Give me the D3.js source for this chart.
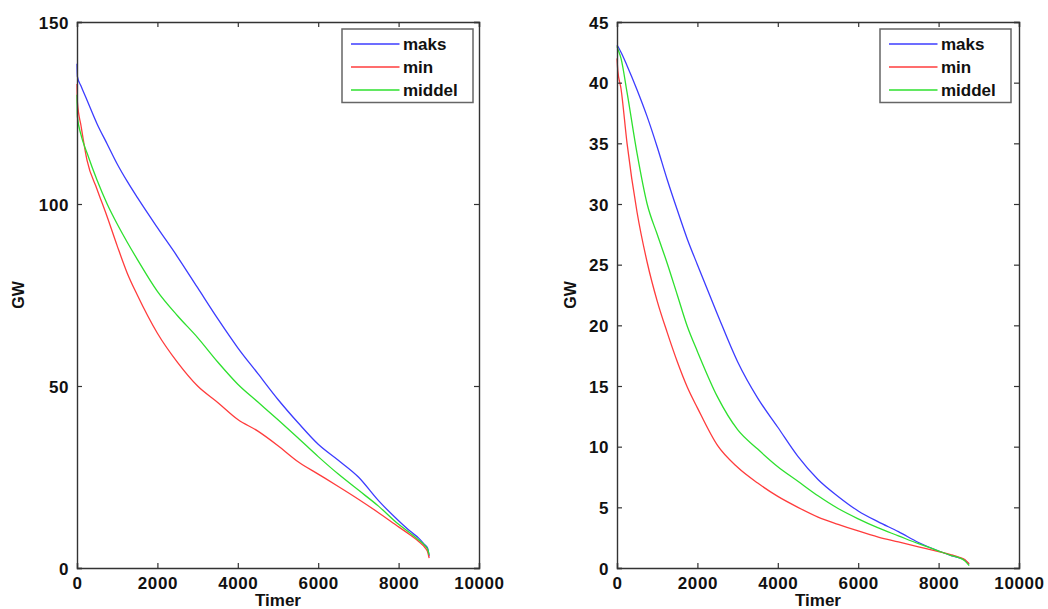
<!DOCTYPE html>
<html>
<head>
<meta charset="utf-8">
<script src="https://cdn.jsdelivr.net/npm/d3@7"></script>
<style>
  body { margin: 0; background: #fff; }
  text { font-family: "Liberation Sans", Arial, sans-serif; font-weight: bold; }
</style>
</head>
<body>
<div id="chart"></div>
<script>
// varighetskurver, hours sorted by load
const seriesNames = ["maks", "min", "middel"];
const seriesColors = ["#3c3cff", "#ff3c3c", "#2ee02e"];

const xTicks = [0, 2000, 4000, 6000, 8000, 10000];
const yTicksLeft = [0, 50, 100, 150];
const yTicksRight = [0, 5, 10, 15, 20, 25, 30, 35, 40, 45];

const hoursLeft = [0, 10, 100, 250, 500, 750, 1000, 1250, 1500, 2000, 2500, 3000, 3500, 4000, 4500, 5000, 5500, 6000, 6500, 7000, 7500, 8000, 8300, 8500, 8650, 8720, 8760];
const maksLeft = [138.5, 135, 132.4, 128.5, 122, 116.5, 111, 106.2, 101.8, 93.5, 85.5, 77, 68.5, 60.5, 53.4, 46.3, 39.9, 34, 29.6, 25, 18.5, 13, 10, 8.2, 6.4, 5.5, 3.2];
const minLeft = [133, 128, 121.5, 112, 104, 96.5, 88.5, 81, 75, 64.5, 56.5, 50, 45.5, 40.8, 37.6, 33.6, 29.2, 25.8, 22.4, 18.9, 15.2, 11.3, 9.0, 7.3, 5.7, 4.5, 2.7];
const middelLeft = [130, 124, 119, 114, 106.5, 100, 94.5, 89.5, 84.8, 76, 69.3, 63.3, 56.6, 50.5, 45.6, 40.7, 35.7, 30.6, 25.8, 21.4, 17, 12, 9.5, 7.7, 6.2, 5.2, 3.6];

const hoursRight = [0, 20, 100, 250, 500, 750, 1000, 1250, 1500, 1750, 2000, 2500, 3000, 3500, 4000, 4500, 5000, 5500, 6000, 6500, 7000, 7500, 8000, 8300, 8500, 8650, 8760];
const maksRight = [43.1, 43, 42.5, 41.4, 39.4, 37.2, 34.7, 32, 29.5, 27.1, 25, 20.9, 17, 14, 11.6, 9.2, 7.3, 5.9, 4.7, 3.8, 3.0, 2.1, 1.4, 1.05, 0.85, 0.65, 0.3];
const minRight = [42, 41, 39.5, 35, 29.3, 25.2, 22, 19.4, 17, 14.9, 13.2, 10.1, 8.3, 7, 5.9, 5, 4.2, 3.6, 3.05, 2.55, 2.15, 1.75, 1.35, 1.1, 0.9, 0.7, 0.35];
const middelRight = [43, 42.8, 42, 39.2, 34.15, 30, 27.5, 25.1, 22.5, 19.9, 17.85, 14.1, 11.4, 9.8, 8.35, 7.15, 5.95, 4.9, 4.05, 3.3, 2.65, 2, 1.4, 1.05, 0.85, 0.6, 0.2];

const width = 1048, height = 609;

const svg = d3.select("#chart").append("svg")
    .attr("width", width)
    .attr("height", height);

function drawPanel(left, right, yMax, yTicks, hours, series, ylabelX, legendX) {
    const top = 22, bottom = 568;
    const x = d3.scaleLinear().domain([0, 10000]).range([left, right]);
    const y = d3.scaleLinear().domain([0, yMax]).range([bottom, top]);

    const g = svg.append("g");

    // curves
    const line = d3.line()
        .x((d, i) => x(hours[i]))
        .y(d => y(d))
        .curve(d3.curveMonotoneX);
    series.forEach((s, k) => {
        g.append("path")
            .datum(s)
            .attr("d", line)
            .attr("fill", "none")
            .attr("stroke", seriesColors[k])
            .attr("stroke-width", 1.3);
    });

    // axes, matlab style: ticks inside on all sides
    const axB = g.append("g").attr("transform", `translate(0,${bottom})`)
        .call(d3.axisBottom(x).tickValues(xTicks).tickSize(-5).tickPadding(9).tickFormat(d3.format("d")));
    const axT = g.append("g").attr("transform", `translate(0,${top})`)
        .call(d3.axisTop(x).tickValues(xTicks).tickSize(-5).tickFormat(""));
    const axL = g.append("g").attr("transform", `translate(${left},0)`)
        .call(d3.axisLeft(y).tickValues(yTicks).tickSize(-5).tickPadding(8));
    const axR = g.append("g").attr("transform", `translate(${right},0)`)
        .call(d3.axisRight(y).tickValues(yTicks).tickSize(-5).tickFormat(""));

    [axB, axT, axL, axR].forEach(a => {
        a.select(".domain").attr("stroke", "#333").attr("stroke-width", 1.4);
        a.selectAll(".tick line").attr("stroke", "#333").attr("stroke-width", 1.2);
        a.selectAll(".tick text")
            .attr("fill", "#111")
            .style("font-size", "17px")
            .style("letter-spacing", "0.6px");
    });
    axL.selectAll(".tick text").attr("dy", "0.36em");

    g.append("text")
        .attr("x", (left + right) / 2)
        .attr("y", 606)
        .attr("text-anchor", "middle")
        .style("font-size", "17px")
        .attr("fill", "#111")
        .text("Timer");

    g.append("text")
        .attr("transform", `translate(${ylabelX},${(top + bottom) / 2}) rotate(-90)`)
        .attr("text-anchor", "middle")
        .style("font-size", "16px")
        .attr("fill", "#111")
        .text("GW");

    // legend
    const lg = g.append("g").attr("transform", `translate(${legendX},29)`);
    lg.append("rect")
        .attr("width", 131)
        .attr("height", 73.5)
        .attr("fill", "#fff")
        .attr("stroke", "#666")
        .attr("stroke-width", 1.5);
    seriesNames.forEach((name, k) => {
        const yy = 15 + k * 23;
        lg.append("line")
            .attr("x1", 9).attr("x2", 57.5)
            .attr("y1", yy).attr("y2", yy)
            .attr("stroke", seriesColors[k])
            .attr("stroke-width", 1.3);
        lg.append("text")
            .attr("x", 61)
            .attr("y", yy)
            .attr("dy", "0.36em")
            .style("font-size", "17px")
            .attr("fill", "#111")
            .text(name);
    });
}

drawPanel(77, 479, 150, yTicksLeft, hoursLeft, [maksLeft, minLeft, middelLeft], 24, 342);
drawPanel(617, 1019, 45, yTicksRight, hoursRight, [maksRight, minRight, middelRight], 576, 880);
</script>
</body>
</html>
